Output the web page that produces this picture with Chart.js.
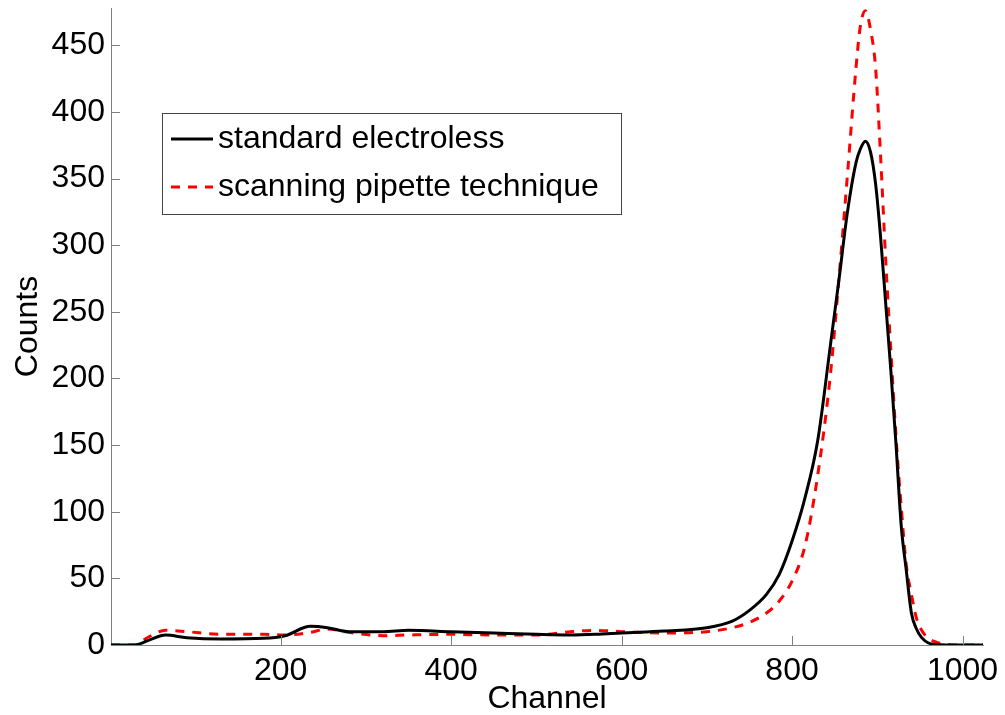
<!DOCTYPE html>
<html>
<head>
<meta charset="utf-8">
<title>Counts vs Channel</title>
<script src="https://cdn.jsdelivr.net/npm/chart.js@4.4.0/dist/chart.umd.min.js"></script>
<style>
  body { margin: 0; background: #fff; }
</style>
</head>
<body>
<canvas id="grafico" width="1005" height="715"></canvas>
<script>
// Datos del espectro (canal / cuentas)
const canales = [1, 28, 45, 65, 90, 130, 180, 205, 235, 255, 280, 320, 350, 400, 450, 500, 540, 570, 600, 650,
  700, 730, 750, 770, 785, 800, 815, 830, 845, 855, 865, 875, 880, 886, 892, 898, 904, 910, 916, 922,
  928, 934, 940, 946, 952, 960, 970, 980, 990, 1024];

const estandar = [0, 0, 3.5, 7.5, 5.5, 4.5, 5, 7, 14, 13, 10, 10, 11, 10, 9, 8, 7.5, 8, 9, 10.5,
  13, 18, 26, 38, 53, 78, 110, 153, 225, 274, 325, 362, 372, 378, 370, 346, 305, 255, 205, 150,
  90, 56, 24, 12, 5.5, 1.5, 0.3, 0, 0, 0];

const pipeta = [0, 0, 6, 11, 10, 8, 8, 7.5, 9.5, 12, 9.5, 7, 7.5, 8, 7.5, 7.5, 10, 11, 10, 9,
  10, 13, 17, 24, 33, 48, 74, 127, 203, 275, 353, 433, 464, 476, 462, 433, 365, 287, 220, 156,
  104, 60, 38, 20, 11, 5, 2, 0.7, 0, 0];

const ticksX = [200, 400, 600, 800, 1000];
const ticksY = [0, 50, 100, 150, 200, 250, 300, 350, 400, 450];

const fuente = "'Liberation Sans', Arial, Helvetica, sans-serif";
const gris = "#808080";

const puntos = (ys) => canales.map((c, i) => ({ x: c, y: ys[i] }));

// Ticks hacia adentro, estilo matlab
const ticksAdentro = {
  id: "ticksAdentro",
  afterDraw(chart) {
    const { ctx, chartArea, scales } = chart;
    ctx.save();
    ctx.strokeStyle = gris;
    ctx.lineWidth = 1;
    ctx.beginPath();
    ticksX.forEach((t) => {
      const px = Math.round(scales.x.getPixelForValue(t)) + 0.5;
      ctx.moveTo(px, chartArea.bottom);
      ctx.lineTo(px, chartArea.bottom - 9);
    });
    ticksY.forEach((t) => {
      const py = Math.round(scales.y.getPixelForValue(t)) + 0.5;
      ctx.moveTo(chartArea.left, py);
      ctx.lineTo(chartArea.left + 9, py);
    });
    ctx.stroke();
    ctx.restore();
  },
};

// Leyenda con recuadro dentro del grafico
const leyenda = {
  id: "leyenda",
  afterDraw(chart) {
    const { ctx } = chart;
    const caja = { x: 162, y: 113, w: 459, h: 101 };
    ctx.save();
    ctx.fillStyle = "#fff";
    ctx.fillRect(caja.x, caja.y, caja.w, caja.h);
    ctx.strokeStyle = "#444";
    ctx.lineWidth = 1;
    ctx.strokeRect(caja.x + 0.5, caja.y + 0.5, caja.w, caja.h);
    chart.data.datasets.forEach((ds, i) => {
      const y = 139 + i * 48;
      ctx.strokeStyle = ds.borderColor;
      ctx.lineWidth = ds.borderWidth;
      ctx.setLineDash(ds.borderDash || []);
      ctx.beginPath();
      ctx.moveTo(171, y);
      ctx.lineTo(213, y);
      ctx.stroke();
      ctx.setLineDash([]);
      ctx.fillStyle = "#000";
      ctx.font = "32px " + fuente;
      ctx.textBaseline = "middle";
      ctx.fillText(ds.label, 218, y);
    });
    ctx.restore();
  },
};

const ctx = document.getElementById("grafico").getContext("2d");
window.miGrafico = new Chart(ctx, {
  type: "line",
  data: {
    datasets: [
      {
        label: "standard electroless",
        data: puntos(estandar),
        borderColor: "#000000",
        borderWidth: 3,
        pointRadius: 0,
        cubicInterpolationMode: "monotone",
        fill: false,
      },
      {
        label: "scanning pipette technique",
        data: puntos(pipeta),
        borderColor: "#ff0000",
        borderWidth: 3,
        borderDash: [9, 8],
        pointRadius: 0,
        cubicInterpolationMode: "monotone",
        fill: false,
      },
    ],
  },
  options: {
    responsive: false,
    animation: false,
    layout: { padding: { top: 8, right: 22, bottom: 0, left: 0 } },
    plugins: {
      legend: { display: false },
      tooltip: { enabled: false },
    },
    scales: {
      x: {
        type: "linear",
        min: 1,
        max: 1024,
        afterBuildTicks: (scale) => {
          scale.ticks = ticksX.map((v) => ({ value: v }));
        },
        afterFit: (scale) => {
          scale.height = 70;
          scale.paddingLeft = 0;
          scale.paddingRight = 0;
        },
        grid: { display: false, drawTicks: false },
        border: { color: gris, width: 1 },
        ticks: {
          color: "#000",
          padding: 7,
          maxRotation: 0,
          callback: (v) => String(v),
          font: { family: fuente, size: 32 },
        },
        title: {
          display: true,
          text: "Channel",
          color: "#000",
          padding: 0,
          font: { family: fuente, size: 32, lineHeight: 1 },
        },
      },
      y: {
        min: 0,
        max: 478,
        afterBuildTicks: (scale) => {
          scale.ticks = ticksY.map((v) => ({ value: v }));
        },
        afterFit: (scale) => {
          scale.width = 111;
          scale.paddingTop = 0;
          scale.paddingBottom = 0;
        },
        grid: { display: false, drawTicks: false },
        border: { color: gris, width: 1 },
        ticks: {
          color: "#000",
          padding: 6,
          callback: (v) => String(v),
          font: { family: fuente, size: 32 },
        },
        title: {
          display: true,
          text: "Counts",
          color: "#000",
          padding: { top: 12, bottom: 0 },
          font: { family: fuente, size: 32, lineHeight: 1 },
        },
      },
    },
  },
  plugins: [ticksAdentro, leyenda],
});
</script>
</body>
</html>
